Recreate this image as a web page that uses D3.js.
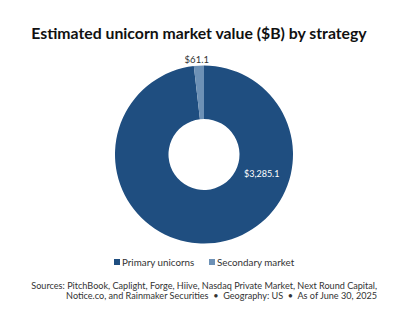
<!DOCTYPE html>
<html>
<head>
<meta charset="utf-8">
<script src="https://cdn.jsdelivr.net/npm/d3@7"></script>
<style>
  body { margin: 0; background: #fff; }
  svg { display: block; }
  text { font-family: Lato, sans-serif; }
</style>
</head>
<body>
<svg id="chart"></svg>
<script>
var categories = ["Primary unicorns", "Secondary market"];
var values = [3285.1, 61.1];
var valueLabels = ["$3,285.1", "$61.1"];
var colors = ["#1f4e80", "#6d91b6"];
var title = "Estimated unicorn market value ($B) by strategy";
var footer = [
    "Sources: PitchBook, Caplight, Forge, Hiive, Nasdaq Private Market, Next Round Capital,",
    "Notice.co, and Rainmaker Securities \u00a0\u2022\u00a0 Geography: US \u00a0\u2022\u00a0 As of June 30, 2025"
];

var width = 394, height = 321;
var cx = 204, cy = 154.5, outerR = 89, innerR = 35.5;

var svg = d3.select("#chart")
    .attr("width", width)
    .attr("height", height);

svg.append("text")
    .attr("x", 199)
    .attr("y", 39)
    .attr("text-anchor", "middle")
    .attr("font-weight", "bold")
    .attr("font-size", 15.8)
    .attr("fill", "#111")
    .text(title);

var pie = d3.pie().sort(null).value(function(d) { return d; });
var arcs = pie(values);
var arc = d3.arc().innerRadius(innerR).outerRadius(outerR);

var g = svg.append("g").attr("transform", "translate(" + cx + "," + cy + ")");

g.selectAll("path")
    .data(arcs)
    .enter()
    .append("path")
    .attr("d", arc)
    .attr("fill", function(d, i) { return colors[i]; });

// label inside the big slice, sits to the lower right
var bigLabelArc = d3.arc().innerRadius(61).outerRadius(61);
g.append("text")
    .attr("transform", function() {
        var c = bigLabelArc.centroid({startAngle: 1.9, endAngle: 1.9});
        return "translate(" + c[0] + "," + c[1] + ")";
    })
    .attr("text-anchor", "middle")
    .attr("dy", "0.35em")
    .attr("font-size", 9)
    .attr("fill", "#fff")
    .text(valueLabels[0]);

// small slice label outside the ring
var outLabelArc = d3.arc().innerRadius(outerR + 2.5).outerRadius(outerR + 2.5);
g.append("text")
    .attr("transform", function() {
        var c = outLabelArc.centroid(arcs[1]);
        return "translate(" + (c[0] - 2) + "," + c[1] + ")";
    })
    .attr("text-anchor", "middle")
    .attr("font-size", 9.5)
    .attr("fill", "#333")
    .text(valueLabels[1]);

// legend
var legendX = [114, 209];
var legend = svg.append("g").selectAll("g")
    .data(categories)
    .enter()
    .append("g")
    .attr("transform", function(d, i) { return "translate(" + legendX[i] + ",259)"; });

legend.append("rect")
    .attr("width", 6)
    .attr("height", 6)
    .attr("fill", function(d, i) { return colors[i]; });

legend.append("text")
    .attr("x", 8)
    .attr("y", 6.5)
    .attr("font-size", 9.8)
    .attr("fill", "#333")
    .text(function(d) { return d; });

svg.append("g").selectAll("text")
    .data(footer)
    .enter()
    .append("text")
    .attr("x", 377)
    .attr("y", function(d, i) { return 289 + i * 10; })
    .attr("text-anchor", "end")
    .attr("font-size", 9.1)
    .attr("fill", "#333")
    .text(function(d) { return d; });
</script>
</body>
</html>
